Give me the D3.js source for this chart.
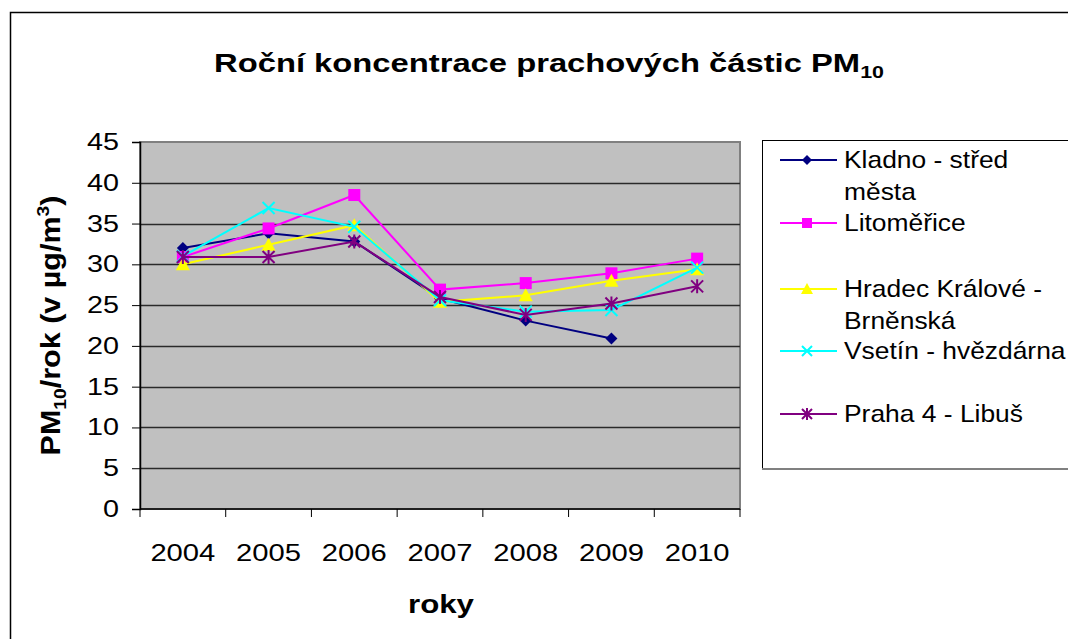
<!DOCTYPE html>
<html>
<head>
<meta charset="utf-8">
<script src="https://cdn.jsdelivr.net/npm/d3@7"></script>
<style>
  body { margin: 0; background: #fff; }
  svg text { font-family: Arial, "Liberation Sans", sans-serif; fill: #000; }
</style>
</head>
<body>
<script>
/* chart data */
var years = ["2004", "2005", "2006", "2007", "2008", "2009", "2010"];
var yTicks = [0, 5, 10, 15, 20, 25, 30, 35, 40, 45];

var kladno = [32.0, 33.8, 32.8, 25.8, 23.1, 20.9, null];
var litomerice = [30.9, 34.4, 38.5, 26.9, 27.7, 28.9, 30.7];
var hradec = [30.0, 32.4, 34.8, 25.4, 26.2, 28.0, 29.4];
var vsetin = [31.0, 36.9, 34.6, 25.6, 24.2, 24.4, 29.6];
var praha = [30.9, 30.9, 32.8, 26.0, 23.8, 25.2, 27.3];

var seriesNames = [["Kladno - střed", "města"], ["Litoměřice"], ["Hradec Králové -", "Brněnská"], ["Vsetín - hvězdárna"], ["Praha 4 - Libuš"]];

var series = [
  { name: seriesNames[0], values: kladno, color: "#000080", marker: "diamond" },
  { name: seriesNames[1], values: litomerice, color: "#FF00FF", marker: "square" },
  { name: seriesNames[2], values: hradec, color: "#FFFF00", marker: "triangle" },
  { name: seriesNames[3], values: vsetin, color: "#00FFFF", marker: "x" },
  { name: seriesNames[4], values: praha, color: "#800080", marker: "star" }
];

var W = 1068, H = 639;
var plot = { left: 140, top: 142, right: 740, bottom: 509 };

var svg = d3.select("body").append("svg")
    .attr("width", W)
    .attr("height", H);

/* text that is a bit wider than normal, like the original picture */
function wideText(parent, x, y, sx, size, anchor, str) {
  var g = parent.append("g").attr("transform", "translate(" + x + "," + y + ") scale(" + sx + ",1)");
  return g.append("text")
    .attr("text-anchor", anchor)
    .attr("font-size", size + "px")
    .text(str);
}

/* outer chart frame */
svg.append("rect")
  .attr("x", 10.5).attr("y", 12.5)
  .attr("width", W + 20).attr("height", H + 20)
  .attr("fill", "#fff")
  .attr("stroke", "#000")
  .attr("stroke-width", 1.5);

var x = d3.scaleBand().domain(years).range([plot.left, plot.right]);
var y = d3.scaleLinear().domain([0, 45]).range([plot.bottom, plot.top]);

/* plot area */
svg.append("rect")
  .attr("x", plot.left).attr("y", plot.top)
  .attr("width", plot.right - plot.left).attr("height", plot.bottom - plot.top)
  .attr("fill", "#C0C0C0")
  .attr("stroke", "#808080")
  .attr("stroke-width", 2);

/* gridlines */
svg.append("g").selectAll("line")
  .data(yTicks.filter(function (d) { return d > 0 && d < 45; }))
  .enter().append("line")
    .attr("x1", plot.left).attr("x2", plot.right)
    .attr("y1", function (d) { return Math.round(y(d)) + 0.5; })
    .attr("y2", function (d) { return Math.round(y(d)) + 0.5; })
    .attr("stroke", "#2a2a2a")
    .attr("stroke-width", 1.5);

/* y axis */
var yAxis = svg.append("g")
  .attr("transform", "translate(" + plot.left + ",0)")
  .call(d3.axisLeft(y).tickValues(yTicks).tickSize(8).tickFormat(""));
yAxis.select(".domain").attr("stroke", "#000").attr("stroke-width", 1.5);
yAxis.selectAll(".tick line").attr("stroke", "#000");
yTicks.forEach(function (t) {
  wideText(svg, 119, y(t) + 8, 1.25, 23, "end", t);
});

/* x axis - ticks between categories */
var xAxisG = svg.append("g");
xAxisG.append("line")
  .attr("x1", plot.left).attr("x2", plot.right)
  .attr("y1", plot.bottom).attr("y2", plot.bottom)
  .attr("stroke", "#000").attr("stroke-width", 1.5);
var bounds = years.map(function (d) { return x(d); }).concat([plot.right]);
xAxisG.selectAll("line.tk")
  .data(bounds)
  .enter().append("line")
    .attr("class", "tk")
    .attr("x1", function (d) { return d; }).attr("x2", function (d) { return d; })
    .attr("y1", plot.bottom).attr("y2", plot.bottom + 8)
    .attr("stroke", "#000");
years.forEach(function (d) {
  wideText(xAxisG, x(d) + x.bandwidth() / 2, 561, 1.27, 23, "middle", d);
});

/* marker symbols */
function drawMarker(g, type, color, size) {
  var s = size;
  if (type === "diamond") {
    g.append("path").attr("d", "M0," + (-s) + "L" + s + ",0L0," + s + "L" + (-s) + ",0Z").attr("fill", color);
  } else if (type === "square") {
    g.append("rect").attr("x", -s).attr("y", -s).attr("width", 2 * s).attr("height", 2 * s).attr("fill", color);
  } else if (type === "triangle") {
    g.append("path").attr("d", "M0," + (-s - 1) + "L" + (s + 1) + "," + (s) + "L" + (-s - 1) + "," + (s) + "Z").attr("fill", color);
  } else if (type === "x") {
    g.append("path").attr("d", "M" + (-s) + "," + (-s) + "L" + s + "," + s + "M" + s + "," + (-s) + "L" + (-s) + "," + s)
      .attr("stroke", color).attr("stroke-width", 2).attr("fill", "none");
  } else if (type === "star") {
    g.append("path").attr("d", "M" + (-s) + "," + (-s) + "L" + s + "," + s + "M" + s + "," + (-s) + "L" + (-s) + "," + s + "M0," + (-s - 1) + "L0," + (s + 1))
      .attr("stroke", color).attr("stroke-width", 2).attr("fill", "none");
  }
}

var line = d3.line()
  .defined(function (d) { return d != null; })
  .x(function (d, i) { return x(years[i]) + x.bandwidth() / 2; })
  .y(function (d) { return y(d); });

series.forEach(function (s) {
  svg.append("path")
    .datum(s.values)
    .attr("d", line)
    .attr("fill", "none")
    .attr("stroke", s.color)
    .attr("stroke-width", 2);
  s.values.forEach(function (v, i) {
    if (v == null) return;
    var g = svg.append("g")
      .attr("transform", "translate(" + (x(years[i]) + x.bandwidth() / 2) + "," + y(v) + ")");
    drawMarker(g, s.marker, s.color, 6);
  });
});

/* title */
var title = wideText(svg, 549, 72, 1.26, 26, "middle", "Roční koncentrace prachových částic PM")
  .attr("font-weight", "bold");
title.append("tspan").attr("font-size", "17px").attr("dy", 6).text("10");

/* axis titles */
var yt = svg.append("g")
  .attr("transform", "translate(60," + ((plot.top + plot.bottom) / 2) + ") rotate(-90) scale(1.13,1)")
  .append("text")
  .attr("text-anchor", "middle")
  .attr("font-size", "27px")
  .attr("font-weight", "bold");
yt.append("tspan").text("PM");
yt.append("tspan").attr("font-size", "17px").attr("dy", 6).text("10");
yt.append("tspan").attr("dy", -6).text("/rok (v µg/m");
yt.append("tspan").attr("font-size", "17px").attr("dy", -11).text("3");
yt.append("tspan").attr("dy", 11).text(")");

wideText(svg, 441, 613, 1.25, 25, "middle", "roky").attr("font-weight", "bold");

/* legend */
var legend = svg.append("g");
legend.append("rect")
  .attr("x", 762.5).attr("y", 140.5)
  .attr("width", 320).attr("height", 328)
  .attr("fill", "#fff")
  .attr("stroke", "#000")
  .attr("stroke-width", 1);
legend.append("line")
  .attr("x1", 762).attr("x2", W).attr("y1", 469).attr("y2", 469)
  .attr("stroke", "#808080").attr("stroke-width", 2);

var legendY = [160, 223, 289, 351, 414];
series.forEach(function (s, i) {
  var ly = legendY[i];
  legend.append("line")
    .attr("x1", 780).attr("x2", 837)
    .attr("y1", ly).attr("y2", ly)
    .attr("stroke", s.color).attr("stroke-width", 2);
  drawMarker(legend.append("g").attr("transform", "translate(807," + ly + ")"), s.marker, s.color, 5);
  s.name.forEach(function (t, j) {
    wideText(legend, 844, ly + 8 + j * 32, 1.1, 24, "start", t);
  });
});
</script>
</body>
</html>
